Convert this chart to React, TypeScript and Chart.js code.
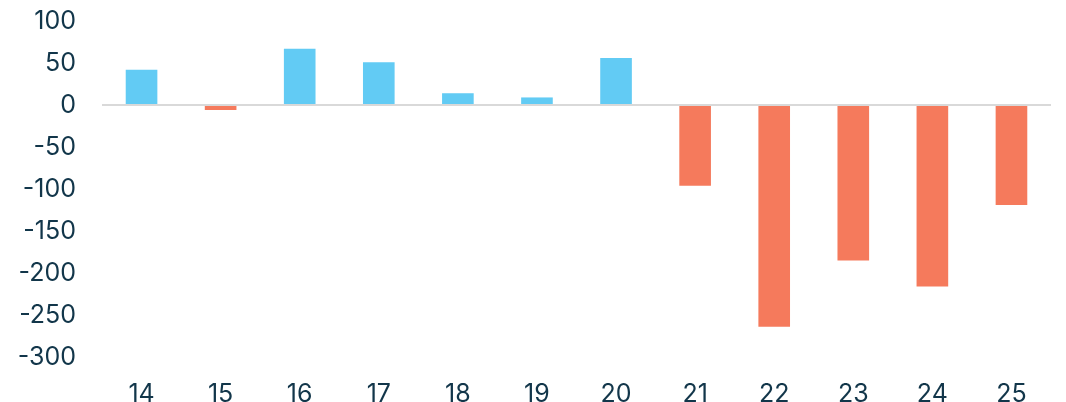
import React, { useEffect, useRef } from "react";
import { Chart, registerables } from "chart.js";

Chart.register(...registerables);

const categories = ["14", "15", "16", "17", "18", "19", "20", "21", "22", "23", "24", "25"];
const values = [42, -6, 67, 51, 14, 9, 56, -96, -264, -185, -216, -119];
const yMin = -300;
const yMax = 100;
const yStep = 50;

const POS_COLOR = "#62cbf4";
const NEG_COLOR = "#f57a5c";
const TEXT_COLOR = "#12364a";
const FONT = "Inter";

export default function App() {
  const ref = useRef<HTMLCanvasElement | null>(null);
  useEffect(() => {
    if (!ref.current) return;
    const chart = new Chart(ref.current, {
      type: "bar",
      data: {
        labels: categories,
        datasets: [
          {
            data: values,
            backgroundColor: values.map((v) => (v >= 0 ? POS_COLOR : NEG_COLOR)),
            barPercentage: 0.4,
            categoryPercentage: 1,
            borderWidth: 0,
          },
        ],
      },
      options: {
        animation: false,
        responsive: false,
        maintainAspectRatio: false,
        layout: { padding: { top: 21, right: 15, left: 0, bottom: 0 } },
        plugins: { legend: { display: false }, tooltip: { enabled: false } },
        scales: {
          x: {
            grid: { display: false, drawTicks: false },
            border: { display: false },
            ticks: {
              color: TEXT_COLOR,
              font: { family: FONT, size: 25 },
              padding: 22,
            },
            afterFit: (s: any) => {
              s.height = 45;
              s.paddingLeft = 0;
              s.paddingRight = 0;
            },
          },
          y: {
            min: yMin,
            max: yMax,
            ticks: {
              stepSize: yStep,
              color: TEXT_COLOR,
              font: { family: FONT, size: 25 },
              padding: 26,
            },
            grid: {
              drawTicks: false,
              lineWidth: 2,
              color: (ctx: any) => (ctx.tick && ctx.tick.value === 0 ? "#d9d9d9" : "rgba(0,0,0,0)"),
            },
            border: { display: false },
            afterFit: (s: any) => {
              s.width = 102;
              s.paddingTop = 0;
              s.paddingBottom = 0;
            },
          },
        },
      },
    });
    return () => chart.destroy();
  }, []);
  return (
    <div style={{ position: "fixed", left: 0, top: 0, width: 1066, height: 402, background: "#fff" }}>
      <canvas ref={ref} width={1066} height={402} style={{ width: 1066, height: 402 }} />
    </div>
  );
}
